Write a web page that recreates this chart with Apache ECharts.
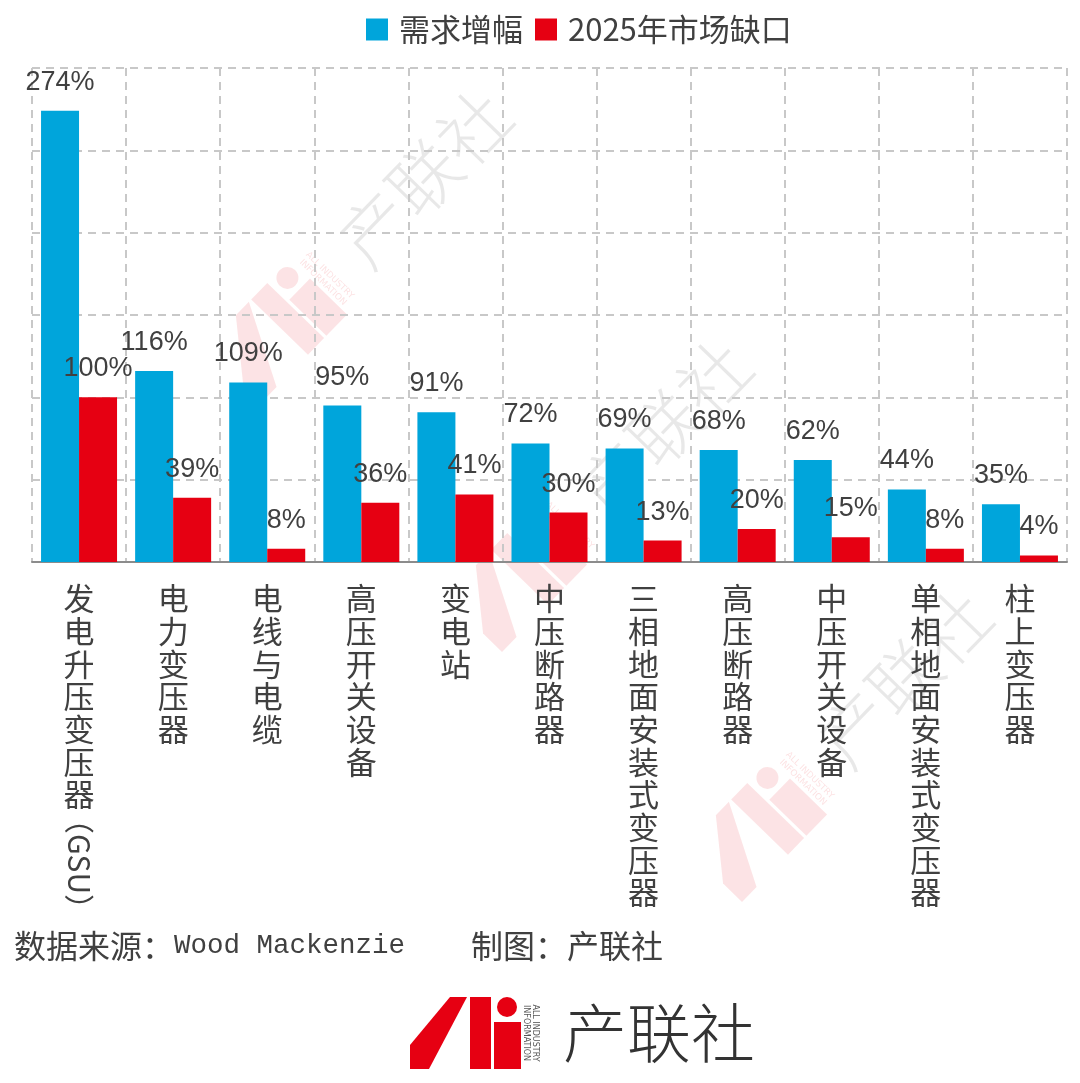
<!DOCTYPE html>
<html>
<head>
<meta charset="utf-8">
<script src="https://cdn.jsdelivr.net/npm/echarts@6/dist/echarts.min.js"></script>
<style>
  html, body { margin: 0; padding: 0; background: #fff; }
  #main { width: 1080px; height: 1083px; }
</style>
</head>
<body>
<div id="main"></div>
<script>
// 数据
const categories = ['发电升压变压器（GSU）', '电力变压器', '电线与电缆', '高压开关设备', '变电站', '中压断路器',
  '三相地面安装式变压器', '高压断路器', '中压开关设备', '单相地面安装式变压器', '柱上变压器']
const demandGrowth = [274, 116, 109, 95, 91, 72, 69, 68, 62, 44, 35]
const marketGap2025 = [100, 39, 8, 36, 41, 30, 13, 20, 15, 8, 4]
const seriesNames = ['需求增幅', '2025年市场缺口']

const CJK = '"Noto Sans CJK SC", sans-serif'
const NUM = '"Liberation Sans", Arial, sans-serif'
const TEXT = '#404040'
const BLUE = '#00a5db'
const RED = '#e60012'

// logo 图形（底部 logo 与水印共用）
function logoParts (red, gray, small) {
  return [
    { type: 'polygon', shape: { points: [[0, 0], [0, -24], [40, -72], [57, -72], [19, 0]] }, style: { fill: red } },
    { type: 'rect', shape: { x: 60, y: -72, width: 21, height: 72 }, style: { fill: red } },
    { type: 'circle', shape: { cx: 97, cy: -62, r: 10 }, style: { fill: red } },
    { type: 'rect', shape: { x: 84, y: -47, width: 27, height: 47 }, style: { fill: red } },
    {
      type: 'text', x: 121, y: -36, rotation: -Math.PI / 2,
      style: { text: 'ALL INDUSTRY\nINFORMATION', fill: small, font: '8px "DejaVu Sans", sans-serif', align: 'center', verticalAlign: 'middle', lineHeight: 9 }
    },
    {
      type: 'text', x: 153, y: -36,
      style: { text: '产联社', fill: gray, font: '300 64px "Noto Sans CJK SC", sans-serif', verticalAlign: 'middle' }
    }
  ]
}

function watermark (x, y) {
  return {
    type: 'group', x: x, y: y, rotation: 0.8, scaleX: 1.1, scaleY: 1.1, z: 100, silent: true,
    children: logoParts('rgba(230,0,18,0.11)', 'rgba(0,0,0,0.09)', 'rgba(230,0,18,0.12)')
  }
}

const chart = echarts.init(document.getElementById('main'))

const barLabel = { show: true, position: 'top', distance: 15, formatter: '{c}%', fontSize: 27, color: TEXT, fontFamily: NUM }

chart.setOption({
  backgroundColor: '#fff',
  animation: false,
  legend: {
    data: seriesNames,
    left: 361,
    top: 9,
    icon: 'rect',
    itemWidth: 22,
    itemHeight: 22,
    itemGap: 12,
    textStyle: { fontSize: 31, color: TEXT, fontFamily: CJK, padding: [0, 0, 0, 6] }
  },
  grid: { left: 32, right: 13, top: 68, bottom: 521 },
  xAxis: {
    type: 'category',
    data: categories,
    axisLine: { lineStyle: { color: '#8c8c8c', width: 2 } },
    axisTick: { show: false },
    splitLine: { show: true, lineStyle: { color: '#c8c8c8', width: 2, type: [8, 6] } },
    axisLabel: {
      interval: 0,
      margin: 20,
      fontSize: 31,
      lineHeight: 32.7,
      color: TEXT,
      fontFamily: CJK,
      verticalAlign: 'top',
      formatter: v => v.replace('（GSU）', '').split('').join('\n')
    }
  },
  yAxis: {
    type: 'value',
    min: 0,
    max: 300,
    interval: 50,
    axisLabel: { show: false },
    axisLine: { show: false },
    axisTick: { show: false },
    splitLine: { lineStyle: { color: '#c8c8c8', width: 2, type: [8, 6] } }
  },
  series: [
    {
      name: seriesNames[0],
      type: 'bar',
      data: demandGrowth,
      barWidth: 38,
      barGap: 0,
      itemStyle: { color: BLUE },
      label: barLabel
    },
    {
      name: seriesNames[1],
      type: 'bar',
      data: marketGap2025,
      barWidth: 38,
      barGap: 0,
      itemStyle: { color: RED },
      label: barLabel
    }
  ],
  graphic: [
    // 第一个类目里的 （GSU） 横排旋转
    {
      type: 'text', x: 79, y: 864, rotation: -Math.PI / 2,
      style: { text: '（GSU）', fill: TEXT, font: '30px ' + CJK, align: 'center', verticalAlign: 'middle' }
    },
    // 来源
    {
      type: 'text', x: 14, y: 946,
      style: {
        text: '{a|数据来源：}{b|Wood Mackenzie    }{a|制图：产联社}',
        verticalAlign: 'middle',
        rich: {
          a: { fontSize: 32, fontFamily: CJK, fill: TEXT },
          b: { fontSize: 27.5, fontFamily: '"Liberation Mono", "DejaVu Sans Mono", monospace', fill: TEXT }
        }
      }
    },
    // 底部 logo
    { type: 'group', x: 410, y: 1069, children: logoParts(RED, '#333', '#555') },
    // 水印
    watermark(262, 402),
    watermark(502, 652),
    watermark(742, 902)
  ]
})
</script>
</body>
</html>
